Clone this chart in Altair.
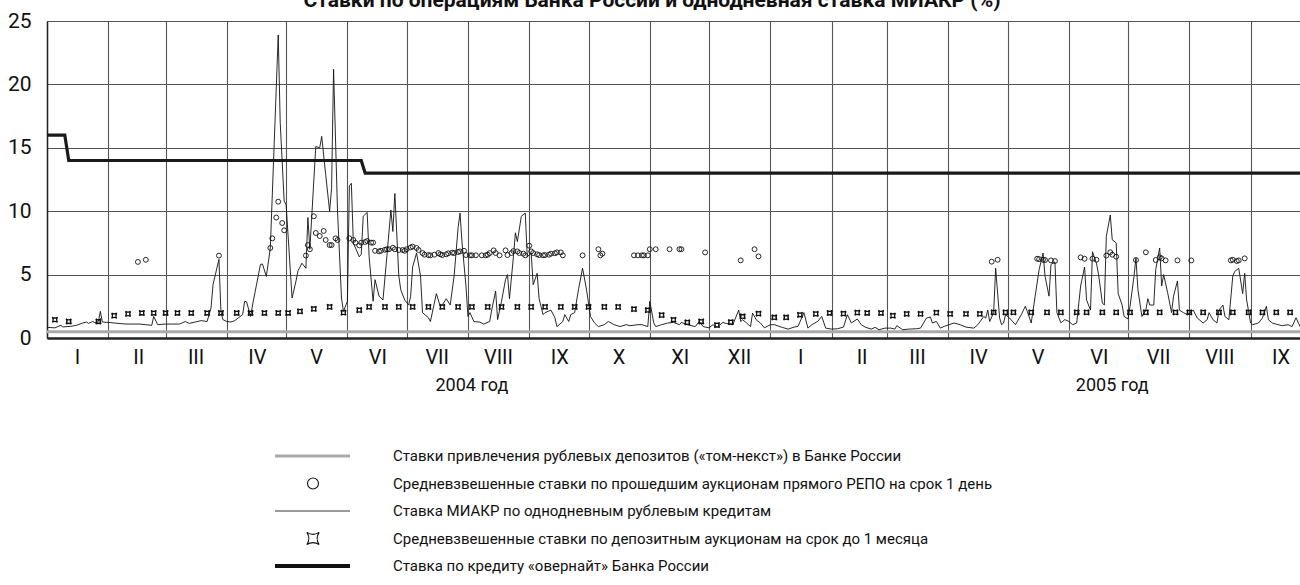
import altair as alt
import pandas as pd

# ---------------- data ----------------
miacr_dates = [
    "2004-01-01", "2004-01-05", "2004-01-08", "2004-01-09", "2004-01-13", "2004-01-16", "2004-01-19",
    "2004-01-21", "2004-01-22", "2004-01-24", "2004-01-26", "2004-01-27", "2004-01-28", "2004-01-29",
    "2004-02-02", "2004-02-04", "2004-02-10", "2004-02-17", "2004-02-20", "2004-02-23", "2004-02-24",
    "2004-02-26", "2004-03-01", "2004-03-04", "2004-03-08", "2004-03-11", "2004-03-13", "2004-03-16",
    "2004-03-19", "2004-03-22", "2004-03-24", "2004-03-25", "2004-03-28", "2004-03-29", "2004-03-30",
    "2004-04-01", "2004-04-03", "2004-04-05", "2004-04-09", "2004-04-10", "2004-04-11", "2004-04-13",
    "2004-04-14", "2004-04-18", "2004-04-19", "2004-04-21", "2004-04-23", "2004-04-27", "2004-04-28",
    "2004-04-30", "2004-05-01", "2004-05-04", "2004-05-06", "2004-05-07", "2004-05-09", "2004-05-11",
    "2004-05-12", "2004-05-13", "2004-05-14", "2004-05-16", "2004-05-18", "2004-05-19", "2004-05-21",
    "2004-05-23", "2004-05-24", "2004-05-25", "2004-05-27", "2004-05-29", "2004-05-30", "2004-06-01",
    "2004-06-02", "2004-06-03", "2004-06-04", "2004-06-07", "2004-06-08", "2004-06-09", "2004-06-11",
    "2004-06-12", "2004-06-14", "2004-06-15", "2004-06-17", "2004-06-19", "2004-06-21", "2004-06-23",
    "2004-06-24", "2004-06-25", "2004-06-27", "2004-06-28", "2004-06-30", "2004-07-02", "2004-07-03",
    "2004-07-04", "2004-07-06", "2004-07-08", "2004-07-09", "2004-07-12", "2004-07-13", "2004-07-16",
    "2004-07-18", "2004-07-19", "2004-07-21", "2004-07-23", "2004-07-25", "2004-07-27", "2004-07-28",
    "2004-07-29", "2004-07-31", "2004-08-01", "2004-08-02", "2004-08-04", "2004-08-07", "2004-08-09",
    "2004-08-12", "2004-08-13", "2004-08-15", "2004-08-16", "2004-08-18", "2004-08-20", "2004-08-21",
    "2004-08-22", "2004-08-24", "2004-08-25", "2004-08-26", "2004-08-28", "2004-08-30", "2004-08-31",
    "2004-09-02", "2004-09-03", "2004-09-05", "2004-09-06", "2004-09-08", "2004-09-09", "2004-09-12",
    "2004-09-14", "2004-09-15", "2004-09-18", "2004-09-19", "2004-09-21", "2004-09-22", "2004-09-24",
    "2004-09-26", "2004-09-28", "2004-09-30", "2004-10-02", "2004-10-04", "2004-10-06", "2004-10-09",
    "2004-10-11", "2004-10-14", "2004-10-17", "2004-10-20", "2004-10-22", "2004-10-26", "2004-10-28",
    "2004-10-31", "2004-11-01", "2004-11-03", "2004-11-04", "2004-11-07", "2004-11-10", "2004-11-13",
    "2004-11-16", "2004-11-17", "2004-11-20", "2004-11-24", "2004-11-26", "2004-11-28", "2004-12-01",
    "2004-12-03", "2004-12-05", "2004-12-08", "2004-12-10", "2004-12-13", "2004-12-16", "2004-12-17",
    "2004-12-18", "2004-12-20", "2004-12-22", "2004-12-23", "2004-12-25", "2004-12-27", "2004-12-29",
    "2005-01-01", "2005-01-03", "2005-01-07", "2005-01-10", "2005-01-13", "2005-01-15", "2005-01-18",
    "2005-01-20", "2005-01-22", "2005-01-25", "2005-01-27", "2005-01-29", "2005-02-01", "2005-02-04",
    "2005-02-07", "2005-02-09", "2005-02-11", "2005-02-14", "2005-02-16", "2005-02-18", "2005-02-21",
    "2005-02-23", "2005-02-25", "2005-02-28", "2005-03-03", "2005-03-05", "2005-03-06", "2005-03-09",
    "2005-03-12", "2005-03-16", "2005-03-18", "2005-03-21", "2005-03-23", "2005-03-24", "2005-03-26",
    "2005-03-28", "2005-03-30", "2005-04-04", "2005-04-07", "2005-04-10", "2005-04-14", "2005-04-16",
    "2005-04-19", "2005-04-20", "2005-04-21", "2005-04-22", "2005-04-24", "2005-04-25", "2005-04-27",
    "2005-04-28", "2005-04-29", "2005-04-30", "2005-05-02", "2005-05-05", "2005-05-06", "2005-05-08",
    "2005-05-10", "2005-05-11", "2005-05-13", "2005-05-15", "2005-05-17", "2005-05-19", "2005-05-20",
    "2005-05-22", "2005-05-23", "2005-05-25", "2005-05-26", "2005-05-28", "2005-05-30", "2005-06-01",
    "2005-06-03", "2005-06-05", "2005-06-07", "2005-06-09", "2005-06-10", "2005-06-12", "2005-06-13",
    "2005-06-15", "2005-06-16", "2005-06-18", "2005-06-19", "2005-06-20", "2005-06-22", "2005-06-23",
    "2005-06-25", "2005-06-26", "2005-06-28", "2005-06-29", "2005-07-01", "2005-07-02", "2005-07-04",
    "2005-07-05", "2005-07-06", "2005-07-08", "2005-07-10", "2005-07-11", "2005-07-12", "2005-07-14",
    "2005-07-15", "2005-07-17", "2005-07-18", "2005-07-19", "2005-07-21", "2005-07-23", "2005-07-24",
    "2005-07-26", "2005-07-27", "2005-07-29", "2005-07-31", "2005-08-03", "2005-08-05", "2005-08-08",
    "2005-08-10", "2005-08-11", "2005-08-13", "2005-08-15", "2005-08-16", "2005-08-18", "2005-08-19",
    "2005-08-21", "2005-08-23", "2005-08-24", "2005-08-26", "2005-08-28", "2005-08-29", "2005-08-30",
    "2005-09-01", "2005-09-02", "2005-09-05", "2005-09-07", "2005-09-09", "2005-09-10", "2005-09-12",
    "2005-09-15", "2005-09-17", "2005-09-20", "2005-09-22", "2005-09-24", "2005-09-26",
]
miacr_values = [
    0.84, 0.80, 1.00, 0.87, 0.92, 1.00, 1.18,
    1.26, 1.15, 1.30, 1.18, 1.30, 2.10, 1.26,
    1.22, 1.18, 1.10, 1.10, 1.05, 1.00, 1.70,
    1.05, 1.10, 1.10, 1.10, 1.30, 1.15, 1.26,
    1.37, 1.30, 2.37, 4.20, 6.20, 2.10, 1.45,
    1.30, 1.26, 1.37, 1.84, 2.90, 2.85, 1.70,
    2.60, 5.80, 5.84, 4.86, 7.10, 23.9, 17.0,
    10.8, 10.5, 3.15, 4.50, 5.30, 5.90, 5.50,
    9.50, 7.00, 9.70, 15.1, 15.0, 15.9, 12.9,
    10.0, 11.8, 21.2, 10.0, 3.15, 2.10, 2.90,
    12.0, 12.2, 7.50, 6.40, 6.60, 9.60, 9.90,
    6.40, 2.90, 4.60, 3.30, 3.00, 6.50, 10.1,
    8.40, 11.4, 4.90, 3.80, 3.00, 2.60, 3.30,
    5.60, 6.70, 4.90, 2.00, 1.60, 1.30, 3.50,
    2.50, 2.60, 3.10, 2.60, 4.90, 8.70, 9.85,
    7.50, 4.10, 1.70, 2.00, 1.30, 1.25, 1.10,
    1.30, 2.20, 3.70, 1.45, 2.90, 4.60, 5.00,
    3.10, 6.40, 8.30, 7.60, 9.60, 9.85, 6.40,
    6.70, 4.20, 5.10, 3.10, 1.84, 2.00, 2.20,
    1.60, 0.90, 1.30, 1.84, 1.30, 1.84, 2.00,
    3.90, 5.50, 3.80, 1.70, 1.20, 0.90, 1.05,
    1.30, 1.05, 0.90, 1.05, 0.97, 1.05, 1.05,
    0.90, 2.90, 1.20, 0.90, 1.05, 1.18, 1.23,
    1.05, 1.23, 1.05, 0.90, 1.30, 0.90, 0.80,
    1.05, 0.86, 1.23, 1.13, 1.05, 2.20, 1.30,
    1.44, 1.18, 0.90, 1.97, 1.40, 1.18, 0.80,
    1.05, 1.05, 0.84, 0.70, 0.86, 0.92, 2.00,
    0.78, 1.05, 1.31, 1.70, 0.78, 0.70, 0.73,
    0.86, 1.84, 1.18, 1.50, 1.05, 0.86, 0.70,
    0.84, 0.65, 0.78, 0.78, 0.70, 0.97, 0.65,
    0.70, 0.73, 0.78, 1.57, 1.65, 1.18, 1.31,
    0.78, 0.92, 1.18, 1.05, 0.86, 0.78, 1.05,
    1.70, 1.57, 2.20, 1.30, 2.00, 5.50, 1.58,
    1.05, 1.18, 1.84, 1.58, 1.05, 1.31, 1.84,
    2.50, 2.10, 1.18, 3.30, 5.40, 6.70, 4.86,
    3.30, 5.80, 6.00, 2.00, 1.20, 1.45, 1.31,
    1.05, 1.18, 4.10, 5.60, 3.00, 2.20, 6.80,
    5.90, 5.10, 2.76, 2.60, 8.00, 9.70, 7.75,
    7.50, 3.50, 2.60, 1.70, 1.50, 2.50, 4.86,
    6.30, 3.80, 1.70, 2.20, 3.10, 2.60, 2.60,
    5.40, 7.10, 4.10, 5.00, 3.60, 2.00, 3.30,
    4.50, 2.20, 2.00, 1.84, 2.20, 1.58, 1.18,
    1.44, 2.00, 1.44, 1.18, 2.20, 2.60, 1.70,
    1.44, 4.90, 5.25, 5.50, 3.50, 5.10, 3.00,
    1.18, 1.05, 1.18, 1.58, 2.50, 1.44, 1.18,
    1.05, 0.97, 1.05, 0.90, 1.60, 0.90,
]

repo_dates = [
    "2004-02-16", "2004-02-20", "2004-03-28",
    "2004-04-23", "2004-04-24", "2004-04-26", "2004-04-27", "2004-04-29", "2004-04-30",
    "2004-05-11", "2004-05-12", "2004-05-13", "2004-05-15", "2004-05-16", "2004-05-18", "2004-05-20",
    "2004-05-21", "2004-05-23", "2004-05-24", "2004-05-26", "2004-05-27",
    "2004-06-02", "2004-06-04", "2004-06-05", "2004-06-07", "2004-06-08", "2004-06-10", "2004-06-11",
    "2004-06-13", "2004-06-14", "2004-06-15", "2004-06-17", "2004-06-18", "2004-06-20", "2004-06-21",
    "2004-06-22", "2004-06-24", "2004-06-25", "2004-06-27", "2004-06-29", "2004-06-30",
    "2004-07-01", "2004-07-03", "2004-07-04", "2004-07-06", "2004-07-07", "2004-07-09", "2004-07-10",
    "2004-07-12", "2004-07-13", "2004-07-15", "2004-07-17", "2004-07-18", "2004-07-19", "2004-07-21",
    "2004-07-22", "2004-07-24", "2004-07-25", "2004-07-27", "2004-07-28", "2004-07-30", "2004-07-31",
    "2004-08-02", "2004-08-03", "2004-08-05", "2004-08-08", "2004-08-10", "2004-08-11", "2004-08-12",
    "2004-08-14", "2004-08-15", "2004-08-17", "2004-08-20", "2004-08-21", "2004-08-23", "2004-08-24",
    "2004-08-26", "2004-08-27", "2004-08-29", "2004-08-30",
    "2004-09-01", "2004-09-02", "2004-09-03", "2004-09-05", "2004-09-06", "2004-09-08", "2004-09-09",
    "2004-09-11", "2004-09-12", "2004-09-14", "2004-09-15", "2004-09-17", "2004-09-18", "2004-09-28",
    "2004-10-06", "2004-10-07", "2004-10-08", "2004-10-24", "2004-10-26", "2004-10-28", "2004-10-29",
    "2004-10-31", "2004-11-01", "2004-11-04", "2004-11-11", "2004-11-16", "2004-11-17", "2004-11-29",
    "2004-12-17", "2004-12-24", "2004-12-26",
    "2005-04-23", "2005-04-26", "2005-05-16", "2005-05-17", "2005-05-19", "2005-05-20", "2005-05-23",
    "2005-05-25", "2005-06-07", "2005-06-09", "2005-06-13", "2005-06-15", "2005-06-20", "2005-06-22",
    "2005-06-23", "2005-06-25", "2005-07-05", "2005-07-10", "2005-07-15", "2005-07-17", "2005-07-18",
    "2005-07-20", "2005-07-26", "2005-08-02", "2005-08-22", "2005-08-23", "2005-08-25", "2005-08-26",
    "2005-08-29",
]
repo_values = [
    6.00, 6.17, 6.50,
    7.10, 7.86, 9.50, 10.75, 9.07, 8.49,
    6.50, 7.33, 7.00, 9.60, 8.28, 8.04, 8.44,
    7.73, 7.33, 7.33, 7.86, 7.73,
    7.86, 7.73, 7.52, 7.30, 7.52, 7.57, 7.65,
    7.52, 7.52, 6.88, 6.83, 6.88, 6.96, 7.00,
    7.00, 7.12, 7.00, 6.94, 6.94, 6.88,
    7.00, 7.14, 7.21, 7.10, 6.94, 6.70, 6.57,
    6.54, 6.52, 6.57, 6.70, 6.60, 6.54, 6.60,
    6.68, 6.73, 6.70, 6.78, 6.83, 6.88, 6.54,
    6.52, 6.52, 6.52, 6.52, 6.52, 6.57, 6.70,
    6.91, 6.70, 6.52, 6.91, 6.54, 6.70, 6.86,
    6.83, 6.70, 6.65, 6.52,
    7.28, 6.83, 6.70, 6.60, 6.54, 6.52, 6.54,
    6.57, 6.65, 6.68, 6.75, 6.75, 6.52, 6.52,
    7.00, 6.52, 6.65, 6.52, 6.52, 6.52, 6.52,
    6.52, 7.00, 7.00, 7.00, 7.00, 7.00, 6.75,
    6.12, 7.00, 6.44,
    6.02, 6.17, 6.25, 6.22, 6.17, 6.15, 6.12,
    6.07, 6.36, 6.25, 6.25, 6.17, 6.50, 6.76,
    6.57, 6.41, 6.15, 6.76, 6.15, 6.36, 6.28,
    6.12, 6.12, 6.12, 6.12, 6.17, 6.07, 6.12,
    6.28,
]

deposit_dates = [
    "2004-01-05", "2004-01-12", "2004-01-27", "2004-02-04", "2004-02-11", "2004-02-18", "2004-02-24",
    "2004-03-01", "2004-03-07", "2004-03-14", "2004-03-22", "2004-03-29", "2004-04-06", "2004-04-13",
    "2004-04-20", "2004-04-27", "2004-05-02", "2004-05-08", "2004-05-15", "2004-05-23", "2004-05-30",
    "2004-06-07", "2004-06-12", "2004-06-20", "2004-06-27", "2004-07-04", "2004-07-12", "2004-07-19",
    "2004-07-27", "2004-08-03", "2004-08-11", "2004-08-18", "2004-08-26", "2004-09-02", "2004-09-09",
    "2004-09-17", "2004-09-24", "2004-10-01", "2004-10-09", "2004-10-16", "2004-10-24", "2004-10-31",
    "2004-11-07", "2004-11-13", "2004-11-20", "2004-11-27", "2004-12-05", "2004-12-12", "2004-12-18",
    "2004-12-26", "2005-01-03", "2005-01-09", "2005-01-16", "2005-01-24", "2005-01-31", "2005-02-07",
    "2005-02-14", "2005-02-19", "2005-02-26", "2005-03-04", "2005-03-11", "2005-03-18", "2005-03-26",
    "2005-04-02", "2005-04-10", "2005-04-17", "2005-04-24", "2005-04-30", "2005-05-04", "2005-05-13",
    "2005-05-21", "2005-05-28", "2005-06-05", "2005-06-10", "2005-06-18", "2005-06-25", "2005-07-02",
    "2005-07-10", "2005-07-17", "2005-07-25", "2005-08-01", "2005-08-08", "2005-08-16", "2005-08-23",
    "2005-08-31", "2005-09-07", "2005-09-14", "2005-09-21",
]
deposit_values = [
    1.44, 1.30, 1.30, 1.76, 1.90, 1.97, 1.97,
    1.97, 1.97, 1.97, 1.97, 1.97, 1.97, 1.97,
    1.97, 1.97, 1.97, 2.10, 2.30, 2.45, 2.00,
    2.20, 2.45, 2.45, 2.45, 2.45, 2.45, 2.45,
    2.45, 2.45, 2.45, 2.45, 2.45, 2.45, 2.45,
    2.45, 2.45, 2.45, 2.45, 2.45, 2.28, 2.20,
    1.80, 1.44, 1.23, 1.30, 1.02, 1.25, 1.70,
    1.92, 1.62, 1.62, 1.83, 1.90, 1.97, 1.92,
    2.00, 1.97, 1.97, 1.76, 1.90, 1.90, 2.00,
    1.90, 1.90, 1.90, 2.02, 2.02, 2.02, 2.02,
    2.02, 2.02, 2.02, 2.02, 2.02, 2.02, 2.02,
    2.02, 2.02, 2.02, 2.02, 2.02, 2.02, 2.02,
    2.02, 2.02, 2.02, 2.02,
]

overnight_dates = ["2004-01-01", "2004-01-10", "2004-01-12", "2004-06-08", "2004-06-10", "2005-09-26"]
overnight_values = [16, 16, 14, 14, 13, 13]

tomnext_dates = ["2004-01-01", "2005-09-26"]
tomnext_values = [0.5, 0.5]

month_numerals = ["I", "II", "III", "IV", "V", "VI", "VII", "VIII", "IX", "X", "XI", "XII"]
year_labels = ["2004 год", "2005 год"]
year_label_dates = ["2004-08-03", "2005-06-23"]

title_text = "Ставки по операциям Банка России и однодневная ставка МИАКР (%)"
legend_labels = [
    "Ставки привлечения рублевых депозитов («том-некст») в Банке России",
    "Средневзвешенные ставки по прошедшим аукционам прямого РЕПО на срок 1 день",
    "Ставка МИАКР по однодневным рублевым кредитам",
    "Средневзвешенные ставки по депозитным аукционам на срок до 1 месяца",
    "Ставка по кредиту «овернайт» Банка России",
]

# ---------------- layout / style ----------------
FONT = "Roboto, Liberation Sans, sans-serif"
W, H = 1253, 317
PAD_L, PAD_T = 47, 21
STAR = "M -1 -1 Q 0 -0.35 1 -1 Q 0.35 0 1 1 Q 0 0.35 -1 1 Q -0.35 0 -1 -1 Z"
GRID = "#555555"

roman_expr = "[" + ",".join("'%s'" % r for r in month_numerals) + "][utcmonth(datum.value)]"

xscale = alt.Scale(type="utc",
                   domain=[alt.DateTime(year=2004, month=1, date=1, utc=True),
                           alt.DateTime(year=2005, month=9, date=26, utc=True)])
yscale = alt.Scale(domain=[0, 25], nice=False)

xaxis = alt.Axis(tickCount=alt.TickCount(interval="month", step=1), labelExpr=roman_expr,
                 labelOffset=30, labelFlush=False, labelOverlap=False, labelFont=FONT,
                 labelFontSize=20, labelColor="#111", labelPadding=9, ticks=False,
                 grid=True, gridColor=GRID, gridWidth=1.1, domain=True, domainColor="#222",
                 domainWidth=2.5, title=None)
yaxis = alt.Axis(values=[0, 5, 10, 15, 20, 25], labelFont=FONT, labelFontSize=21,
                 labelColor="#111", labelPadding=16, ticks=False, grid=True, gridColor=GRID,
                 gridWidth=1.1, domain=True, domainColor="#222", domainWidth=1.5, title=None)

X = alt.X("date:T", scale=xscale, axis=xaxis)
Y = alt.Y("value:Q", scale=yscale, axis=yaxis)

df_miacr = pd.DataFrame({"date": miacr_dates, "value": miacr_values})
df_repo = pd.DataFrame({"date": repo_dates, "value": repo_values})
df_dep = pd.DataFrame({"date": deposit_dates, "value": deposit_values})
df_over = pd.DataFrame({"date": overnight_dates, "value": overnight_values})
df_tom = pd.DataFrame({"date": tomnext_dates, "value": tomnext_values})

tom = alt.Chart(df_tom).mark_line(color="#aaaaaa", strokeWidth=3).encode(x=X, y=Y)
over = alt.Chart(df_over).mark_line(color="#1a1a1a", strokeWidth=3.2).encode(x=X, y=Y)
miacr = alt.Chart(df_miacr).mark_line(color="#111111", strokeWidth=0.9).encode(x=X, y=Y)
repo = alt.Chart(df_repo).mark_point(shape="circle", size=24, color="#111", filled=False,
                                     strokeWidth=0.9, opacity=1).encode(x=X, y=Y)
dep = alt.Chart(df_dep).mark_point(shape=STAR, size=26, color="#111", filled=False,
                                   strokeWidth=1.3, opacity=1).encode(x=X, y=Y)

df_years = pd.DataFrame({"date": year_label_dates, "label": year_labels})
years = alt.Chart(df_years).mark_text(font=FONT, fontSize=18, color="#111", baseline="middle",
                                      align="center").encode(
    x=alt.X("date:T", scale=xscale), y=alt.value(365), text="label:N")

one = pd.DataFrame({"a": [0]})
title = alt.Chart(one).mark_text(text=title_text, font=FONT, fontSize=21, fontWeight="bold",
                                 color="#111", align="center", baseline="alphabetic").encode(
    x=alt.value(605), y=alt.value(-14.5))

leg_y = [435, 462.5, 490, 517.5, 545]
SX1, SX2, SXC, TX = 228, 303, 266, 346
legend_layers = [
    alt.Chart(one).mark_rule(color="#aaaaaa", strokeWidth=3).encode(
        x=alt.value(SX1), x2=alt.value(SX2), y=alt.value(leg_y[0])),
    alt.Chart(one).mark_point(shape="circle", size=120, color="#111", filled=False,
                              strokeWidth=1.1, opacity=1).encode(
        x=alt.value(SXC), y=alt.value(leg_y[1])),
    alt.Chart(one).mark_rule(color="#777777", strokeWidth=1.3).encode(
        x=alt.value(SX1), x2=alt.value(SX2), y=alt.value(leg_y[2])),
    alt.Chart(one).mark_point(shape=STAR, size=150, color="#111", filled=False,
                              strokeWidth=1.1, opacity=1).encode(
        x=alt.value(SXC), y=alt.value(leg_y[3])),
    alt.Chart(one).mark_rule(color="#111111", strokeWidth=4).encode(
        x=alt.value(SX1), x2=alt.value(SX2), y=alt.value(leg_y[4])),
]
for i, lab in enumerate(legend_labels):
    legend_layers.append(
        alt.Chart(one).mark_text(text=lab, font=FONT, fontSize=15, color="#111",
                                 align="left", baseline="middle").encode(
            x=alt.value(TX), y=alt.value(leg_y[i])))

chart = alt.layer(tom, over, miacr, repo, dep, years, title, *legend_layers).properties(
    width=W, height=H,
    autosize=alt.AutoSizeParams(type="none"),
    padding={"left": PAD_L, "top": PAD_T, "right": 0, "bottom": 585 - PAD_T - H},
    background="white",
).configure_view(strokeWidth=0)

chart.save("out.html", embed_options={"renderer": "svg", "actions": False})
